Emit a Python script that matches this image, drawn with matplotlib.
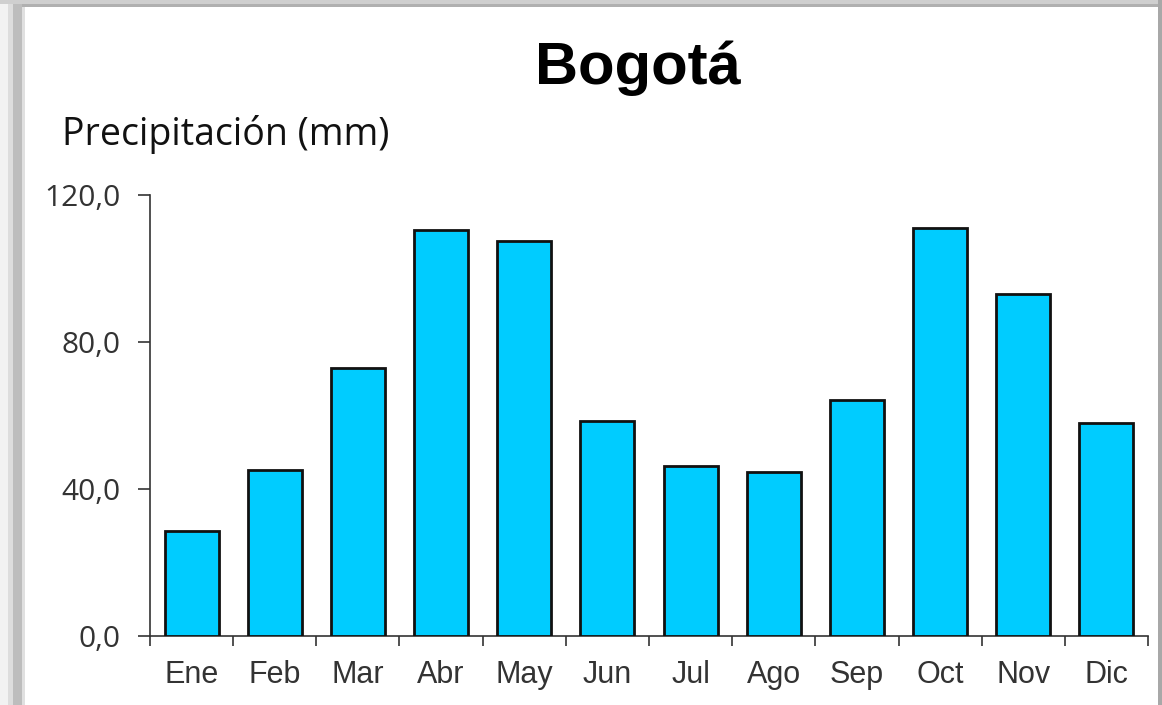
import matplotlib
matplotlib.use("Agg")
import matplotlib.pyplot as plt
from matplotlib.patches import Rectangle

months = ["Ene", "Feb", "Mar", "Abr", "May", "Jun", "Jul", "Ago", "Sep", "Oct", "Nov", "Dic"]
precip = [28.6, 45.2, 72.9, 110.5, 107.5, 58.5, 46.3, 44.6, 64.2, 111.0, 93.1, 58.0]
yticks = [0, 40, 80, 120]
ytick_labels = ["0,0", "40,0", "80,0", "120,0"]

W, H = 1162, 705
fig = plt.figure(figsize=(W / 100, H / 100), dpi=100)
fig.patch.set_facecolor("white")

# screenshot-like frame shadow
def frect(x0, y0, w, h, color):
    fig.patches.append(Rectangle((x0 / W, 1 - (y0 + h) / H), w / W, h / H,
                                 transform=fig.transFigure, color=color, zorder=0, lw=0))

frect(0, 0, 8, H, "#f2f2f2")
frect(8, 0, 5, H, "#dddddd")
frect(13, 0, 9, H, "#bdbdbd")
frect(22, 0, 3, H, "#e0e0e0")
frect(0, 0, W, 4, "#cfcfcf")
frect(22, 4, W - 22, 3, "#b0b0b0")
frect(1158, 0, 4, H, "#a8a8a8")

ax = fig.add_axes([150 / W, 1 - 636 / H, (1148 - 150) / W, (636 - 195) / H])
ax.set_facecolor("none")
x = list(range(len(months)))
ax.bar(x, precip, width=0.65, color="#00CCFF", edgecolor="#111111", linewidth=2.0, zorder=3)

ax.set_xlim(-0.5, len(months) - 0.5)
ax.set_ylim(0, 120)
for s in ["top", "right"]:
    ax.spines[s].set_visible(False)
for s in ["left", "bottom"]:
    ax.spines[s].set_color("#333333")
    ax.spines[s].set_linewidth(1.2)

ax.set_yticks(yticks)
ax.set_yticklabels(ytick_labels, fontsize=21.5, family="Open Sans", color="#333333")
ax.tick_params(axis="y", direction="out", length=9, width=1.2, color="#333333", pad=12)

ax.set_xticks([i - 0.5 for i in range(len(months) + 1)])
ax.set_xticklabels([])
ax.tick_params(axis="x", which="major", direction="out", length=7, width=1.2, color="#333333")
ax.set_xticks(x, minor=True)
ax.set_xticklabels(months, minor=True, fontsize=22, family="Liberation Sans", color="#333333")
ax.tick_params(axis="x", which="minor", length=0, pad=17)

fig.text(638 / W, 1 - 68 / H, "Bogotá", ha="center", va="center",
         fontsize=43, fontweight="bold", family="Liberation Sans", color="black")
fig.text(62 / W, 1 - 134 / H, "Precipitación (mm)", ha="left", va="center",
         fontsize=27, family="Open Sans", color="#111111")

fig.savefig("out.png", dpi=100, facecolor=fig.get_facecolor())
